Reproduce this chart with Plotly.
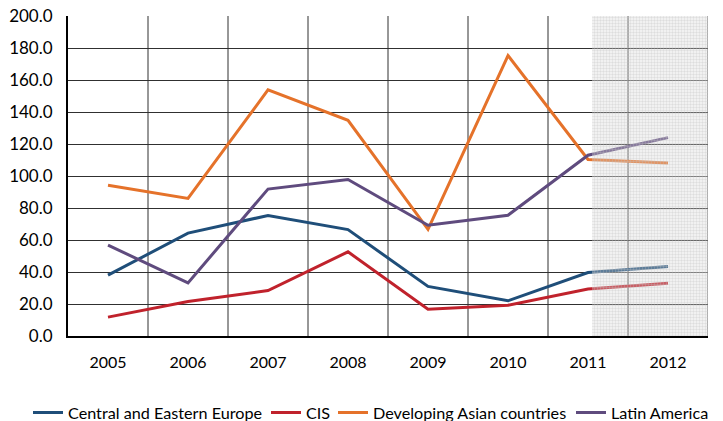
import plotly.graph_objects as go

years = ["2005", "2006", "2007", "2008", "2009", "2010", "2011", "2012"]
cee = [38.0, 64.3, 75.3, 66.5, 31.0, 22.0, 39.7, 43.5]
cis = [11.8, 21.5, 28.4, 52.6, 16.7, 19.2, 29.4, 33.0]
asia = [94.2, 86.0, 153.8, 134.8, 66.7, 175.3, 110.3, 108.2]
latam = [56.8, 33.2, 91.8, 97.8, 69.2, 75.5, 113.0, 124.0]

series_names = ["Central and Eastern Europe", "CIS", "Developing Asian countries", "Latin America"]
series_vals = [cee, cis, asia, latam]
colors = ["#1F4E79", "#C0222C", "#E5722A", "#5F4B7E"]
legend_ids = ["legend", "legend2", "legend3", "legend4"]
legend_x_px = [28, 266, 333, 571]

FAM = "Lato"
font = dict(family=FAM, size=16, color="#000000")
idx = list(range(len(years)))

fig = go.Figure()
for name, vals, c, lid in zip(series_names, series_vals, colors, legend_ids):
    fig.add_trace(go.Scatter(x=idx, y=vals, name=name, mode="lines", legend=lid,
                             line=dict(color=c, width=3)))

# forecast shading as patterned bar in overlay subplot
fig.add_trace(go.Bar(x=[6.775], y=[200], width=[1.45], base=0,
                     xaxis="x2", yaxis="y2", showlegend=False, hoverinfo="skip",
                     marker=dict(color="rgba(255,255,255,0)", line=dict(width=0),
                                 pattern=dict(shape=".", fgcolor="#c4c4c4", bgcolor="rgba(225,225,225,0.25)",
                                              size=3, solidity=0.5, fillmode="overlay"))))

legend_common = dict(orientation="h", xref="container", yref="container",
                     xanchor="left", y=1 - 413 / 421, yanchor="middle",
                     font=dict(family=FAM, size=16.2), itemwidth=30,
                     bgcolor="rgba(0,0,0,0)")
legends = {lid: dict(legend_common, x=px / 723) for lid, px in zip(legend_ids, legend_x_px)}

fig.update_layout(
    width=723, height=421,
    margin=dict(l=68, r=15, t=16, b=85, autoexpand=False),
    paper_bgcolor="white", plot_bgcolor="white",
    font=font,
    showlegend=True,
    xaxis=dict(range=[-0.5, 7.5], tickmode="array", tickvals=idx, ticktext=years,
               showgrid=False, zeroline=False, showline=True, linecolor="black", linewidth=2,
               ticks="", ticklabelstandoff=11, fixedrange=True),
    yaxis=dict(range=[0, 200], tickmode="linear", tick0=0, dtick=20, tickformat=".1f",
               tickfont=dict(size=17),
               showgrid=True, gridcolor="#303030", gridwidth=1, zeroline=False,
               showline=True, linecolor="black", linewidth=2, ticks="", ticklabelstandoff=10),
    xaxis2=dict(range=[-0.5, 7.5], overlaying="x", visible=False, showgrid=False, fixedrange=True),
    yaxis2=dict(range=[0, 200], overlaying="y", visible=False, showgrid=False),
    **legends,
)

# vertical gridlines at category boundaries
for b in [0.5 + i for i in range(8)]:
    fig.add_shape(type="line", xref="x", yref="y", x0=b, x1=b, y0=0, y1=200,
                  line=dict(color="#303030", width=1), layer="below")

fig.write_html("out.html")
